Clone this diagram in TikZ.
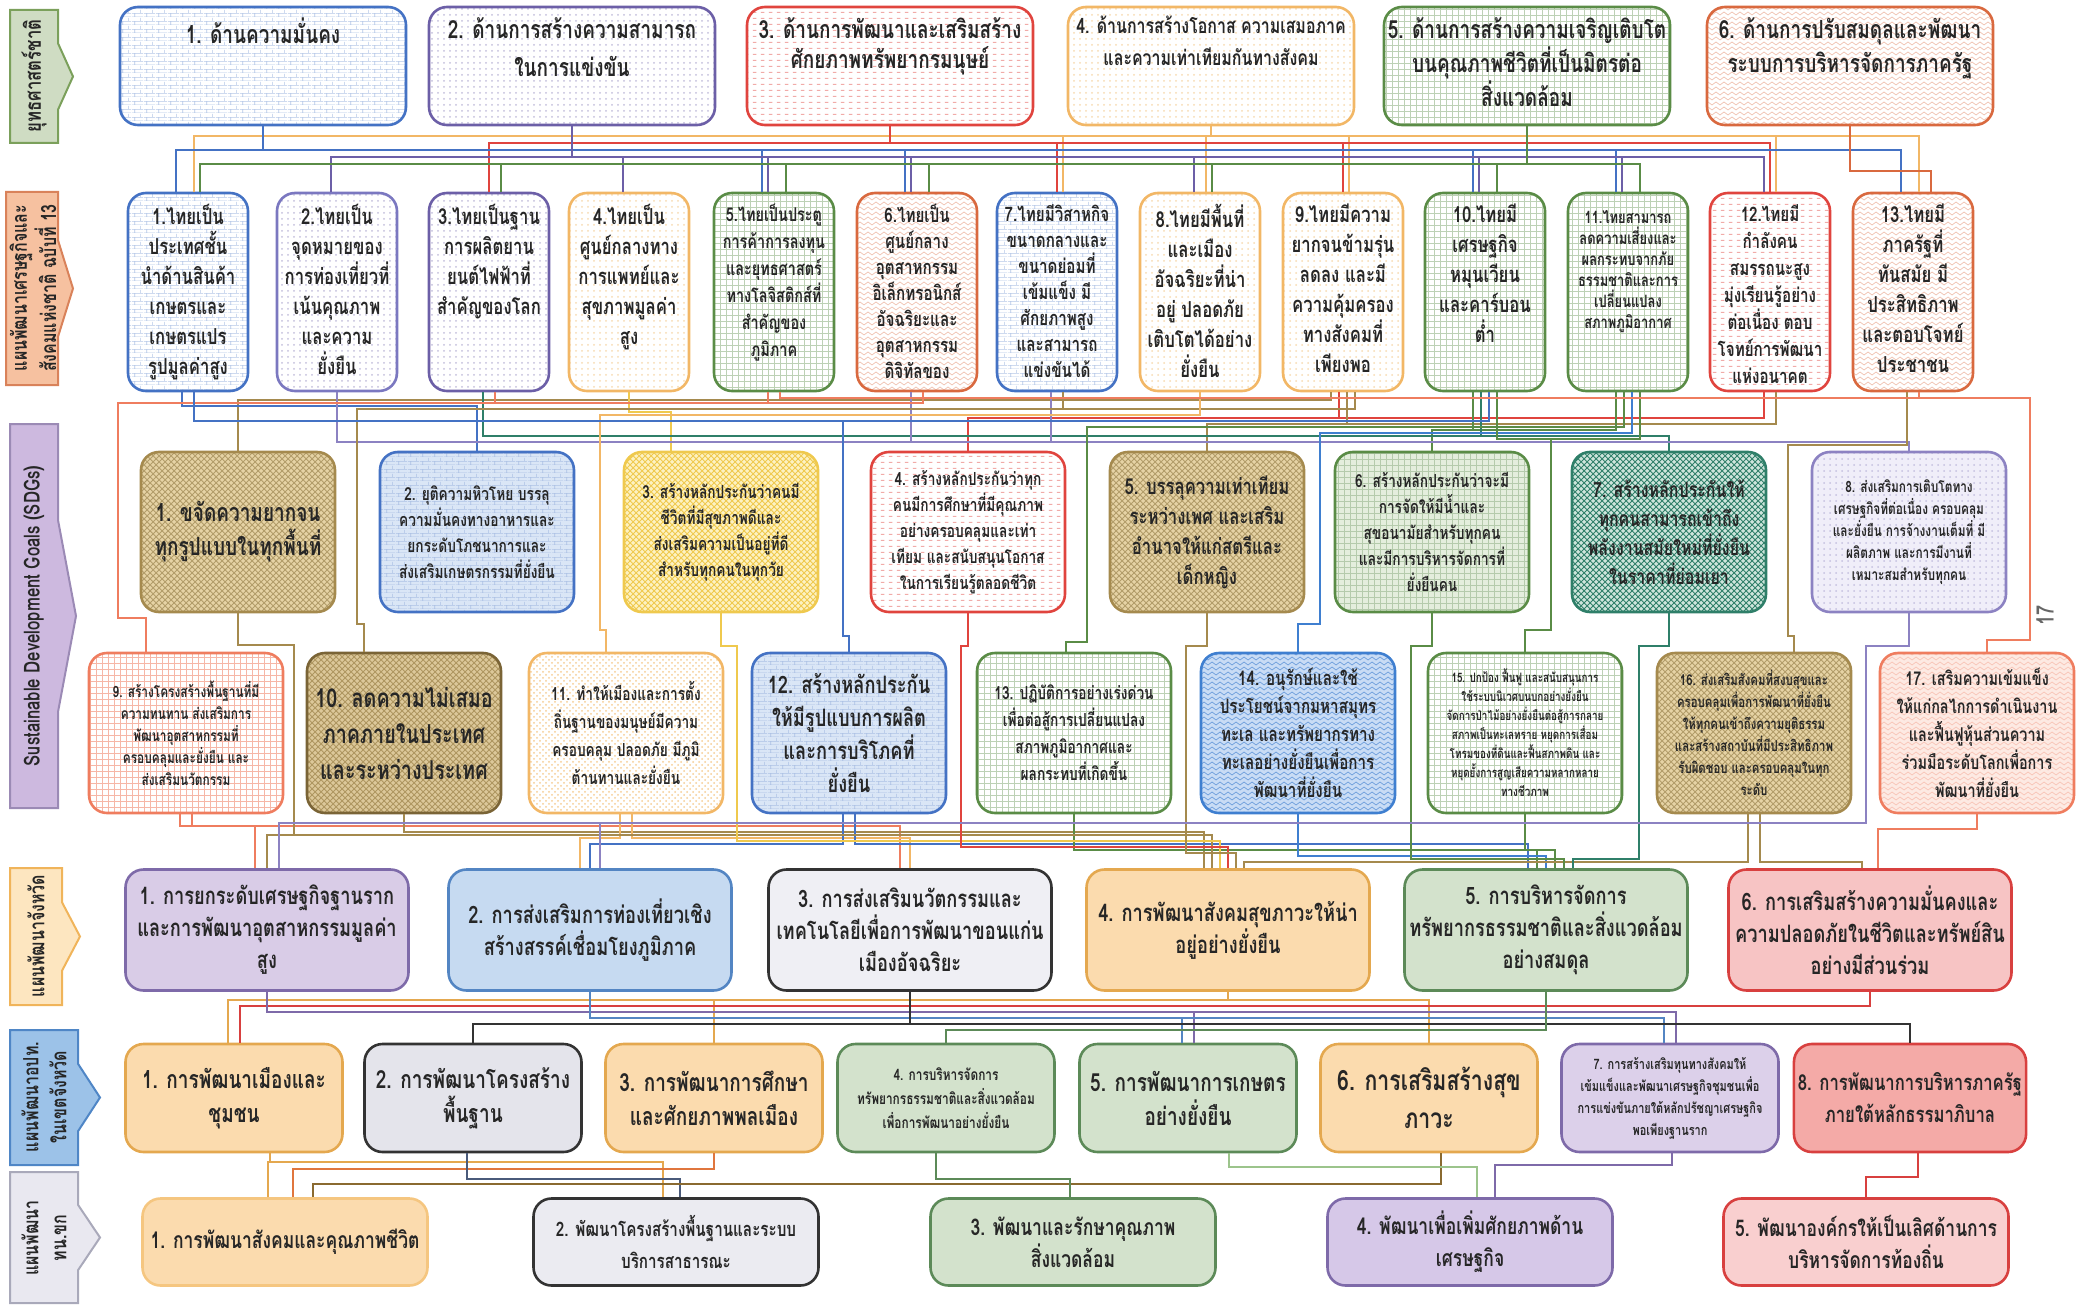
\documentclass[tikz,border=0pt]{standalone}
\usepackage{fontspec}
\setmainfont[Script=Thai, FakeStretch=0.76]{Loma}
\usetikzlibrary{calc, positioning, patterns, patterns.meta}

\newcommand{\fz}[2]{\fontsize{#1}{#2}\selectfont\bfseries}

% strategy and plan colours
\definecolor{sblue}{HTML}{4472C4}
\definecolor{spurple}{HTML}{6C5FA7}
\definecolor{plav}{HTML}{7B78C0}
\definecolor{sred}{HTML}{E0443E}
\definecolor{sorange}{HTML}{F2B766}
\definecolor{sgreen}{HTML}{5A8C46}
\definecolor{sorred}{HTML}{D9693F}
% sdg colours
\definecolor{gbrown}{HTML}{A58A4E}
\definecolor{dbrown}{HTML}{7A6436}
\definecolor{gyellow}{HTML}{EFC94E}
\definecolor{gteal}{HTML}{2F7F69}
\definecolor{glav}{HTML}{8C82C2}
\definecolor{gsalmon}{HTML}{EF7D5F}
\definecolor{gblue}{HTML}{3F7FD0}
\definecolor{bgtan}{HTML}{E6D3A5}
\definecolor{bgtan2}{HTML}{DCC89A}
\definecolor{bgblue}{HTML}{DAE6F6}
\definecolor{bgyellow}{HTML}{FDF2C2}
\definecolor{bggreen}{HTML}{E4EEDD}
\definecolor{bgteal}{HTML}{CFE5DC}
\definecolor{bglav}{HTML}{F0EEF9}
\definecolor{bgsea}{HTML}{C9DCF5}
\definecolor{bgpink}{HTML}{FDEAE3}
% province / local colours
\definecolor{ppurple}{HTML}{7E6AA9}
\definecolor{pblue}{HTML}{5385C3}
\definecolor{pdark}{HTML}{333333}
\definecolor{porange}{HTML}{E4A84F}
\definecolor{corange}{HTML}{F5C680}
\definecolor{pgreen}{HTML}{5C8A58}
\definecolor{pred}{HTML}{D8403F}
\definecolor{fpurple}{HTML}{D9CCE7}
\definecolor{fpurple2}{HTML}{DCD0EA}
\definecolor{fpurple3}{HTML}{D6C8E8}
\definecolor{fblue}{HTML}{C6DAF1}
\definecolor{fgray}{HTML}{EFEFF4}
\definecolor{fgray2}{HTML}{E4E4EB}
\definecolor{fgray3}{HTML}{EBEBF1}
\definecolor{forange}{HTML}{FBDBAE}
\definecolor{fgreen}{HTML}{D3E2CC}
\definecolor{fpink}{HTML}{F7C4C4}
\definecolor{fpink2}{HTML}{F9CFCF}
\definecolor{fred}{HTML}{F4AAA7}
\definecolor{lorred}{HTML}{E0763E}
\definecolor{lslate}{HTML}{4A5A7A}
\definecolor{lbrown}{HTML}{8A6A30}
\definecolor{lgreen}{HTML}{9CC48C}
% side tags
\definecolor{tag1d}{HTML}{7BA05B}
\definecolor{tag1f}{HTML}{CFDCC3}
\definecolor{tag2d}{HTML}{D9825A}
\definecolor{tag2f}{HTML}{F6C1A0}
\definecolor{tag3d}{HTML}{9B8AB5}
\definecolor{tag3f}{HTML}{CDB9DF}
\definecolor{tag4d}{HTML}{F0B45A}
\definecolor{tag4f}{HTML}{FDE6C0}
\definecolor{tag5d}{HTML}{4F86C6}
\definecolor{tag5f}{HTML}{9CC2E8}
\definecolor{tag6d}{HTML}{A9A9BA}
\definecolor{tag6f}{HTML}{E9E8F0}

\tikzdeclarepattern{
  name=minibricks,
  type=uncolored,
  bounding box={(0pt,0pt) and (6pt,4pt)},
  tile size={(6pt,4pt)},
  code={
    \draw[line width=0.35pt] (0pt,0pt) -- (6pt,0pt) (0pt,2pt) -- (6pt,2pt)
      (1.5pt,0pt) -- (1.5pt,2pt) (4.5pt,2pt) -- (4.5pt,4pt);
  }
}
\tikzdeclarepattern{
  name=zigzag,
  type=uncolored,
  bounding box={(0pt,-0.5pt) and (4pt,2.5pt)},
  tile size={(4pt,2.5pt)},
  code={\draw[line width=0.35pt] (0pt,0pt) -- (2pt,1.5pt) -- (4pt,0pt);}
}
\tikzdeclarepattern{
  name=dashrows,
  type=uncolored,
  bounding box={(0pt,0pt) and (4pt,3pt)},
  tile size={(4pt,3pt)},
  code={\draw[line width=0.5pt] (0.5pt,1.5pt) -- (2.5pt,1.5pt);}
}

\begin{document}
\begin{tikzpicture}[x=0.5pt, y=-0.5pt,
  every node/.style={font=\bfseries, text=black!85},
  box/.style={draw, line width=1.3pt, rounded corners=9pt, inner sep=2pt, align=center},
  strat/.style={box, minimum width=143pt, minimum height=59pt},
  plan/.style={box, minimum width=60pt, minimum height=99pt},
  sdg/.style={box, minimum width=97pt, minimum height=80pt},
  prov/.style={box, minimum width=141.5pt, minimum height=60.5pt},
  local/.style={box, minimum width=108.5pt, minimum height=54pt},
  city/.style={box, minimum width=142.5pt, minimum height=43.5pt},
  boxtext/.style={anchor=north, align=center, inner sep=0pt},
  pat/.style n args={4}{draw=#1, pattern=#2, pattern color=#3, preaction={fill=#4}},
  flat/.style 2 args={draw=#1, fill=#2},
  wire/.style={line width=1.2pt},
  tag/.style={line width=1pt},
  tagtext/.style={rotate=90, align=center, inner sep=0pt},
]
\useasboundingbox (0,0) rectangle (2076,1305);

\newcommand{\wire}[6]{% style, from, dx, bus, to, dx
  \coordinate (wa) at ($(#2.south)+(#3,0)$);
  \coordinate (wb) at ($(#5.north)+(#6,0)$);
  \coordinate (wy) at (0,#4);
  \draw[wire, #1] (wa) -- (wa |- wy) -- (wb |- wy) -- (wb);
}
\newcommand{\wiregap}[8]{% style, from, dx, bus, gap x, bus, to, dx
  \coordinate (wa) at ($(#2.south)+(#3,0)$);
  \coordinate (wb) at ($(#7.north)+(#8,0)$);
  \coordinate (wy) at (0,#4);
  \coordinate (wg) at (#5,#6);
  \draw[wire, #1] (wa) -- (wa |- wy) -- (wg |- wy) -- (wg) -- (wb |- wg) -- (wb);
}
\newcommand{\tagshape}[6]{% x0, y0, x1, y1, tip, style
  \draw[tag, #6] (#1,#2) -- (#3,#2) -- (#3,{#2+0.25*(#4-#2)}) -- (#5,{0.5*(#2+#4)})
    -- (#3,{#4-0.25*(#4-#2)}) -- (#3,#4) -- (#1,#4) -- cycle;
}

% side tags
\tagshape{10}{10}{58}{143}{73}{draw=tag1d, fill=tag1f}
\node[tagtext, font=\fz{11}{13}] (tag1) at (34,76) {ยุทธศาสตร์ชาติ};
\tagshape{6}{192}{58}{385}{73}{draw=tag2d, fill=tag2f}
\node[tagtext, font=\fz{10.5}{13}] (tag2) at (33,288) {แผนพัฒนาเศรษฐกิจและ\\สังคมแห่งชาติ ฉบับที่ 13};
\tagshape{10}{424}{58}{808}{76}{draw=tag3d, fill=tag3f}
\node[tagtext, font=\fz{11}{13}] (tag3) at (34,616) {Sustainable Development Goals (SDGs)};
\tagshape{10}{868}{62}{1005}{80}{draw=tag4d, fill=tag4f}
\node[tagtext, font=\fz{10.5}{13}] (tag4) at (36,936) {แผนพัฒนาจังหวัด};
\tagshape{10}{1030}{78}{1165}{100}{draw=tag5d, fill=tag5f}
\node[tagtext, font=\fz{10.5}{14}] (tag5) at (44,1097) {แผนพัฒนาอปท.\\ในเขตจังหวัด};
\tagshape{10}{1172}{78}{1303}{100}{draw=tag6d, fill=tag6f}
\node[tagtext, font=\fz{10.5}{14}] (tag6) at (44,1238) {แผนพัฒนา\\ทน.ขก};

% national strategy
\node[strat, pat={sblue}{minibricks}{sblue!40}{white}] (s1) at (263,66) {};
\node[strat, pat={spurple}{dots}{spurple!40}{white}] (s2) at (572,66) {};
\node[strat, pat={sred}{dashrows}{sred!45}{white}] (s3) at (890,66) {};
\node[strat, pat={sorange}{dots}{sorange!50}{white}] (s4) at (1211,66) {};
\node[strat, pat={sgreen}{grid}{sgreen!40}{white}] (s5) at (1527,66) {};
\node[strat, pat={sorred}{zigzag}{sorred!40}{white}] (s6) at (1850,66) {};
\node[boxtext, font=\fz{12.5}{19}] (s1t) at ([yshift=-6pt]s1.north) {1. ด้านความมั่นคง};
\node[boxtext, font=\fz{12.5}{19}] (s2t) at ([yshift=-6pt]s2.north) {2. ด้านการสร้างความสามารถ\\ในการแข่งขัน};
\node[boxtext, font=\fz{12.5}{15}] (s3t) at ([yshift=-6pt]s3.north) {3. ด้านการพัฒนาและเสริมสร้าง\\ศักยภาพทรัพยากรมนุษย์};
\node[boxtext, font=\fz{10.5}{16}] (s4t) at ([yshift=-5pt]s4.north) {4. ด้านการสร้างโอกาส ความเสมอภาค\\และความเท่าเทียมกันทางสังคม};
\node[boxtext, font=\fz{12.5}{17}] (s5t) at ([yshift=-6pt]s5.north) {5. ด้านการสร้างความเจริญเติบโต\\บนคุณภาพชีวิตที่เป็นมิตรต่อ\\สิ่งแวดล้อม};
\node[boxtext, font=\fz{12.5}{17}] (s6t) at ([yshift=-6pt]s6.north) {6. ด้านการปรับสมดุลและพัฒนา\\ระบบการบริหารจัดการภาครัฐ};

% national plan 13
\node[plan, pat={sblue}{minibricks}{sblue!40}{white}] (p1) at (188,292) {};
\node[plan, pat={plav}{dots}{spurple!40}{white}] (p2) at (337,292) {};
\node[plan, pat={spurple}{dots}{spurple!40}{white}] (p3) at (489,292) {};
\node[plan, pat={sorange}{dots}{sorange!50}{white}] (p4) at (629,292) {};
\node[plan, pat={sgreen}{grid}{sgreen!40}{white}] (p5) at (774,292) {};
\node[plan, pat={sorred}{zigzag}{sorred!40}{white}] (p6) at (917,292) {};
\node[plan, pat={sblue}{minibricks}{sblue!40}{white}] (p7) at (1057,292) {};
\node[plan, pat={sorange}{dots}{sorange!50}{white}] (p8) at (1200,292) {};
\node[plan, pat={sorange}{dots}{sorange!50}{white}] (p9) at (1343,292) {};
\node[plan, pat={sgreen}{grid}{sgreen!40}{white}] (p10) at (1485,292) {};
\node[plan, pat={sgreen}{grid}{sgreen!40}{white}] (p11) at (1628,292) {};
\node[plan, pat={sred}{dashrows}{sred!45}{white}] (p12) at (1770,292) {};
\node[plan, pat={sorred}{zigzag}{sorred!40}{white}] (p13) at (1913,292) {};
\begin{scope}[every node/.append style={boxtext, font=\fz{11}{15}}]
  \node (p1t) at ([yshift=-6pt]p1.north) {1.ไทยเป็น\\ประเทศชั้น\\นำด้านสินค้า\\เกษตรและ\\เกษตรแปร\\รูปมูลค่าสูง};
  \node (p2t) at ([yshift=-6pt]p2.north) {2.ไทยเป็น\\จุดหมายของ\\การท่องเที่ยวที่\\เน้นคุณภาพ\\และความ\\ยั่งยืน};
  \node (p3t) at ([yshift=-6pt]p3.north) {3.ไทยเป็นฐาน\\การผลิตยาน\\ยนต์ไฟฟ้าที่\\สำคัญของโลก};
  \node (p4t) at ([yshift=-6pt]p4.north) {4.ไทยเป็น\\ศูนย์กลางทาง\\การแพทย์และ\\สุขภาพมูลค่า\\สูง};
  \node[font=\fz{9.5}{13.5}] (p5t) at ([yshift=-6pt]p5.north) {5.ไทยเป็นประตู\\การค้าการลงทุน\\และยุทธศาสตร์\\ทางโลจิสติกส์ที่\\สำคัญของ\\ภูมิภาค};
  \node[font=\fz{10}{13}] (p6t) at ([yshift=-6pt]p6.north) {6.ไทยเป็น\\ศูนย์กลาง\\อุตสาหกรรม\\อิเล็กทรอนิกส์\\อัจฉริยะและ\\อุตสาหกรรม\\ดิจิทัลของ};
  \node[font=\fz{10}{13}] (p7t) at ([yshift=-6pt]p7.north) {7.ไทยมีวิสาหกิจ\\ขนาดกลางและ\\ขนาดย่อมที่\\เข้มแข็ง มี\\ศักยภาพสูง\\และสามารถ\\แข่งขันได้};
  \node (p8t) at ([yshift=-6pt]p8.north) {8.ไทยมีพื้นที่\\และเมือง\\อัจฉริยะที่น่า\\อยู่ ปลอดภัย\\เติบโตได้อย่าง\\ยั่งยืน};
  \node (p9t) at ([yshift=-6pt]p9.north) {9.ไทยมีความ\\ยากจนข้ามรุ่น\\ลดลง และมี\\ความคุ้มครอง\\ทางสังคมที่\\เพียงพอ};
  \node (p10t) at ([yshift=-6pt]p10.north) {10.ไทยมี\\เศรษฐกิจ\\หมุนเวียน\\และคาร์บอน\\ต่ำ};
  \node[font=\fz{8.5}{10.5}] (p11t) at ([yshift=-9pt]p11.north) {11.ไทยสามารถ\\ลดความเสี่ยงและ\\ผลกระทบจากภัย\\ธรรมชาติและการ\\เปลี่ยนแปลง\\สภาพภูมิอากาศ};
  \node[font=\fz{10}{13.5}] (p12t) at ([yshift=-6pt]p12.north) {12.ไทยมี\\กำลังคน\\สมรรถนะสูง\\มุ่งเรียนรู้อย่าง\\ต่อเนื่อง ตอบ\\โจทย์การพัฒนา\\แห่งอนาคต};
  \node (p13t) at ([yshift=-6pt]p13.north) {13.ไทยมี\\ภาครัฐที่\\ทันสมัย มี\\ประสิทธิภาพ\\และตอบโจทย์\\ประชาชน};
\end{scope}

% SDGs 1-8
\node[sdg, pat={gbrown}{crosshatch}{gbrown!85}{bgtan}, font=\fz{12.5}{17}] (g1) at (238,532) {1. ขจัดความยากจน\\ทุกรูปแบบในทุกพื้นที่};
\node[sdg, pat={sblue}{minibricks}{sblue!45}{bgblue}, font=\fz{9}{13}] (g2) at (477,532) {2. ยุติความหิวโหย บรรลุ\\ความมั่นคงทางอาหารและ\\ยกระดับโภชนาการและ\\ส่งเสริมเกษตรกรรมที่ยั่งยืน};
\node[sdg, pat={gyellow}{crosshatch}{gyellow}{bgyellow}, font=\fz{9}{13}] (g3) at (721,532) {3. สร้างหลักประกันว่าคนมี\\ชีวิตที่มีสุขภาพดีและ\\ส่งเสริมความเป็นอยู่ที่ดี\\สำหรับทุกคนในทุกวัย};
\node[sdg, pat={sred}{dashrows}{sred!45}{white}, font=\fz{9}{13}] (g4) at (968,532) {4. สร้างหลักประกันว่าทุก\\คนมีการศึกษาที่มีคุณภาพ\\อย่างครอบคลุมและเท่า\\เทียม และสนับสนุนโอกาส\\ในการเรียนรู้ตลอดชีวิต};
\node[sdg, pat={gbrown}{crosshatch}{gbrown!85}{bgtan}, font=\fz{11}{15}] (g5) at (1207,532) {5. บรรลุความเท่าเทียม\\ระหว่างเพศ และเสริม\\อำนาจให้แก่สตรีและ\\เด็กหญิง};
\node[sdg, pat={sgreen}{grid}{sgreen!45}{bggreen}, font=\fz{9}{13}] (g6) at (1432,532) {6. สร้างหลักประกันว่าจะมี\\การจัดให้มีน้ำและ\\สุขอนามัยสำหรับทุกคน\\และมีการบริหารจัดการที่\\ยั่งยืนคน};
\node[sdg, pat={gteal}{crosshatch}{gteal}{bgteal}, font=\fz{10.5}{14.5}] (g7) at (1669,532) {7. สร้างหลักประกันให้\\ทุกคนสามารถเข้าถึง\\พลังงานสมัยใหม่ที่ยั่งยืน\\ในราคาที่ย่อมเยา};
\node[sdg, pat={glav}{dots}{glav!50}{bglav}, font=\fz{7.8}{11}] (g8) at (1909,532) {8. ส่งเสริมการเติบโตทาง\\เศรษฐกิจที่ต่อเนื่อง ครอบคลุม\\และยั่งยืน การจ้างงานเต็มที่ มี\\ผลิตภาพ และการมีงานที่\\เหมาะสมสำหรับทุกคน};

% SDGs 9-17
\node[sdg, pat={gsalmon}{grid}{gsalmon!55}{white}, font=\fz{7.8}{11}] (g9) at (186,733) {9. สร้างโครงสร้างพื้นฐานที่มี\\ความทนทาน ส่งเสริมการ\\พัฒนาอุตสาหกรรมที่\\ครอบคลุมและยั่งยืน และ\\ส่งเสริมนวัตกรรม};
\node[sdg, pat={dbrown}{crosshatch}{gbrown!90}{bgtan2}, font=\fz{13}{18}] (g10) at (404,733) {10. ลดความไม่เสมอ\\ภาคภายในประเทศ\\และระหว่างประเทศ};
\node[sdg, pat={sorange}{crosshatch dots}{sorange!70}{white}, font=\fz{9}{14}] (g11) at (626,733) {11. ทำให้เมืองและการตั้ง\\ถิ่นฐานของมนุษย์มีความ\\ครอบคลุม ปลอดภัย มีภูมิ\\ต้านทานและยั่งยืน};
\node[sdg, pat={sblue}{minibricks}{sblue!45}{bgblue}, font=\fz{12}{16.5}] (g12) at (849,733) {12. สร้างหลักประกัน\\ให้มีรูปแบบการผลิต\\และการบริโภคที่\\ยั่งยืน};
\node[sdg, pat={sgreen}{grid}{sgreen!40}{white}, font=\fz{9}{13.5}] (g13) at (1074,733) {13. ปฏิบัติการอย่างเร่งด่วน\\เพื่อต่อสู้การเปลี่ยนแปลง\\สภาพภูมิอากาศและ\\ผลกระทบที่เกิดขึ้น};
\node[sdg, pat={gblue}{zigzag}{gblue!75}{bgsea}, font=\fz{10}{14}] (g14) at (1298,733) {14. อนุรักษ์และใช้\\ประโยชน์จากมหาสมุทร\\ทะเล และทรัพยากรทาง\\ทะเลอย่างยั่งยืนเพื่อการ\\พัฒนาที่ยั่งยืน};
\node[sdg, pat={sgreen}{grid}{sgreen!40}{white}, font=\fz{6.5}{9.5}] (g15) at (1525,733) {15. ปกป้อง ฟื้นฟู และสนับสนุนการ\\ใช้ระบบนิเวศบนบกอย่างยั่งยืน\\จัดการป่าไม้อย่างยั่งยืนต่อสู้การกลาย\\สภาพเป็นทะเลทราย หยุดการเสื่อม\\โทรมของที่ดินและฟื้นสภาพดิน และ\\หยุดยั้งการสูญเสียความหลากหลาย\\ทางชีวภาพ};
\node[sdg, pat={gbrown}{crosshatch}{gbrown!85}{bgtan}, font=\fz{7.5}{11}] (g16) at (1754,733) {16. ส่งเสริมสังคมที่สงบสุขและ\\ครอบคลุมเพื่อการพัฒนาที่ยั่งยืน\\ให้ทุกคนเข้าถึงความยุติธรรม\\และสร้างสถาบันที่มีประสิทธิภาพ\\รับผิดชอบ และครอบคลุมในทุก\\ระดับ};
\node[sdg, pat={gsalmon}{zigzag}{gsalmon!45}{bgpink}, font=\fz{9.5}{14}] (g17) at (1977,733) {17. เสริมความเข้มแข็ง\\ให้แก่กลไกการดำเนินงาน\\และฟื้นฟูหุ้นส่วนความ\\ร่วมมือระดับโลกเพื่อการ\\พัฒนาที่ยั่งยืน};

% provincial plan
\begin{scope}[every node/.append style={font=\fz{12}{16}}]
  \node[prov, flat={ppurple}{fpurple}] (r1) at (267,930) {1. การยกระดับเศรษฐกิจฐานราก\\และการพัฒนาอุตสาหกรรมมูลค่า\\สูง};
  \node[prov, flat={pblue}{fblue}] (r2) at (590,930) {2. การส่งเสริมการท่องเที่ยวเชิง\\สร้างสรรค์เชื่อมโยงภูมิภาค};
  \node[prov, flat={pdark}{fgray}] (r3) at (910,930) {3. การส่งเสริมนวัตกรรมและ\\เทคโนโลยีเพื่อการพัฒนาขอนแก่น\\เมืองอัจฉริยะ};
  \node[prov, flat={porange}{forange}] (r4) at (1228,930) {4. การพัฒนาสังคมสุขภาวะให้น่า\\อยู่อย่างยั่งยืน};
  \node[prov, flat={pgreen}{fgreen}] (r5) at (1546,930) {5. การบริหารจัดการ\\ทรัพยากรธรรมชาติและสิ่งแวดล้อม\\อย่างสมดุล};
  \node[prov, flat={pred}{fpink}] (r6) at (1870,930) {6. การเสริมสร้างความมั่นคงและ\\ความปลอดภัยในชีวิตและทรัพย์สิน\\อย่างมีส่วนร่วม};
\end{scope}

% local government plan
\begin{scope}[every node/.append style={font=\fz{12.5}{17}}]
  \node[local, flat={porange}{forange}] (l1) at (234,1098) {1. การพัฒนาเมืองและ\\ชุมชน};
  \node[local, flat={pdark}{fgray2}] (l2) at (473,1098) {2. การพัฒนาโครงสร้าง\\พื้นฐาน};
  \node[local, flat={porange}{forange}] (l3) at (714,1098) {3. การพัฒนาการศึกษา\\และศักยภาพพลเมือง};
  \node[local, flat={pgreen}{fgreen}, font=\fz{7.8}{12}] (l4) at (946,1098) {4. การบริหารจัดการ\\ทรัพยากรธรรมชาติและสิ่งแวดล้อม\\เพื่อการพัฒนาอย่างยั่งยืน};
  \node[local, flat={pgreen}{fgreen}] (l5) at (1188,1098) {5. การพัฒนาการเกษตร\\อย่างยั่งยืน};
  \node[local, flat={porange}{forange}, font=\fz{14}{19}] (l6) at (1429,1098) {6. การเสริมสร้างสุข\\ภาวะ};
  \node[local, flat={ppurple}{fpurple2}, font=\fz{7.2}{11}] (l7) at (1670,1098) {7. การสร้างเสริมทุนทางสังคมให้\\เข้มแข็งและพัฒนาเศรษฐกิจชุมชนเพื่อ\\การแข่งขันภายใต้หลักปรัชญาเศรษฐกิจ\\พอเพียงฐานราก};
  \node[local, flat={pred}{fred}, font=\fz{11}{16}] (l8) at (1910,1098) {8. การพัฒนาการบริหารภาครัฐ\\ภายใต้หลักธรรมาภิบาล};
\end{scope}

% city plan
\begin{scope}[every node/.append style={font=\fz{11.5}{16}}]
  \node[city, flat={corange}{forange}] (c1) at (285,1242) {1. การพัฒนาสังคมและคุณภาพชีวิต};
  \node[city, flat={pdark}{fgray3}, font=\fz{10}{16}] (c2) at (676,1242) {2. พัฒนาโครงสร้างพื้นฐานและระบบ\\บริการสาธารณะ};
  \node[city, flat={pgreen}{fgreen}] (c3) at (1073,1242) {3. พัฒนาและรักษาคุณภาพ\\สิ่งแวดล้อม};
  \node[city, flat={ppurple}{fpurple3}] (c4) at (1470,1242) {4. พัฒนาเพื่อเพิ่มศักยภาพด้าน\\เศรษฐกิจ};
  \node[city, flat={pred}{fpink2}] (c5) at (1866,1242) {5. พัฒนาองค์กรให้เป็นเลิศด้านการ\\บริหารจัดการท้องถิ่น};
\end{scope}

\node[rotate=90, font=\fz{12}{14}, text=black!60] (page) at (2045,615) {17};

% strategy -> plan 13
\foreach \t in {p1,p7,p8,p9,p12,p13} {\wire{sorange}{s4}{0}{136}{\t}{6}}
\foreach \t in {p3,p7,p9,p12} {\wire{sred}{s3}{0}{143}{\t}{0}}
\foreach \t in {p1,p5,p6,p10,p11,p13} {\wire{sblue}{s1}{0}{150}{\t}{-12}}
\foreach \t in {p2,p4,p5,p6,p8,p10,p11,p12} {\wire{spurple}{s2}{0}{157}{\t}{-6}}
\foreach \t in {p1,p3,p5,p6,p8,p10,p11} {\wire{sgreen}{s5}{0}{164}{\t}{12}}
\wire{sorred}{s6}{0}{171}{p13}{18}

% plan 13 -> sdg
\wire{gbrown}{p9}{-12}{400}{g1}{0}
\wire{sblue}{p1}{-6}{406}{g2}{0}
\wire{gyellow}{p4}{0}{412}{g3}{-50}
\wire{sred}{p9}{-4}{418}{g4}{0}
\wire{sred}{p12}{-6}{418}{g4}{0}
\wire{gbrown}{p12}{6}{424}{g5}{0}
\wire{gbrown}{p9}{4}{424}{g5}{0}
\wire{sgreen}{p11}{-12}{430}{g6}{0}
\wire{sgreen}{p10}{-12}{430}{g6}{0}
\wire{gteal}{p3}{-6}{436}{g7}{0}
\wire{gteal}{p10}{-4}{436}{g7}{0}
\wire{glav}{p2}{0}{442}{g8}{0}
\wire{glav}{p6}{-6}{442}{g8}{0}
\wire{glav}{p7}{-6}{442}{g8}{0}
\wiregap{gsalmon}{p3}{6}{403}{118}{618}{g9}{-40}
\wiregap{gsalmon}{p5}{-6}{403}{118}{618}{g9}{-40}
\wiregap{gsalmon}{p6}{6}{403}{118}{618}{g9}{-40}
\wiregap{gbrown}{p7}{6}{409}{357}{624}{g10}{-40}
\wiregap{gbrown}{p9}{12}{409}{357}{624}{g10}{-40}
\wiregap{sorange}{p8}{0}{415}{600}{630}{g11}{-20}
\wiregap{sblue}{p1}{6}{421}{843}{636}{g12}{0}
\wiregap{sblue}{p10}{4}{421}{843}{636}{g12}{0}
\wiregap{sgreen}{p11}{-4}{427}{1087}{642}{g13}{-8}
\wiregap{gblue}{p11}{4}{433}{1320}{624}{g14}{0}
\wiregap{sgreen}{p11}{12}{439}{1551}{630}{g15}{0}
\wiregap{sgreen}{p10}{12}{439}{1551}{630}{g15}{0}
\wiregap{gbrown}{p13}{-6}{445}{1788}{636}{g16}{40}
\wiregap{gsalmon}{p5}{6}{398}{2030}{640}{g17}{10}
\wiregap{gsalmon}{p13}{6}{398}{2030}{640}{g17}{10}

% sdg -> province
\wire{gsalmon}{g9}{-6}{826}{r1}{-12}
\wire{gsalmon}{g9}{6}{826}{r3}{-10}
\wire{gbrown}{g10}{0}{832}{r4}{-24}
\wire{sorange}{g11}{-6}{838}{r2}{-10}
\wire{sorange}{g11}{6}{838}{r3}{0}
\wire{sblue}{g12}{-6}{844}{r2}{0}
\wire{sblue}{g12}{6}{844}{r5}{-18}
\wire{sgreen}{g13}{0}{850}{r5}{-9}
\wire{gblue}{g14}{0}{856}{r5}{0}
\wire{sgreen}{g15}{0}{850}{r5}{9}
\wire{gbrown}{g16}{-6}{862}{r4}{16}
\wire{gbrown}{g16}{6}{862}{r6}{-8}
\wire{gsalmon}{g17}{0}{829}{r6}{8}
\wiregap{gbrown}{g1}{0}{645}{294}{835}{r1}{0}
\wiregap{gbrown}{g1}{0}{645}{294}{835}{r4}{-16}
\wiregap{gyellow}{g3}{0}{646}{737}{841}{r4}{-8}
\wiregap{sred}{g4}{0}{646}{961}{847}{r4}{0}
\wiregap{gbrown}{g5}{0}{646}{1186}{853}{r4}{8}
\wiregap{sgreen}{g6}{0}{646}{1411}{859}{r5}{18}
\wiregap{gteal}{g7}{0}{646}{1639}{859}{r5}{27}
\wiregap{glav}{g8}{0}{646}{1866}{823}{r1}{12}
\wiregap{glav}{g8}{0}{646}{1866}{823}{r2}{10}

% province -> local
\foreach \t/\d in {l1/-6,l3/0,l6/0} {\wire{porange}{r4}{0}{1000}{\t}{\d}}
\wire{pred}{r6}{0}{1006}{l1}{6}
\foreach \t in {l5,l7} {\wire{ppurple}{r1}{0}{1012}{\t}{6}}
\foreach \t in {l5,l7} {\wire{pblue}{r2}{0}{1018}{\t}{-6}}
\foreach \t in {l2,l8} {\wire{pdark}{r3}{0}{1024}{\t}{0}}
\wire{pgreen}{r5}{0}{1030}{l4}{0}

% local -> city
\wire{porange}{l1}{36}{1162}{c1}{-17}
\wire{porange}{l1}{36}{1162}{c2}{-13}
\wire{lorred}{l3}{0}{1169}{c1}{8}
\wire{lslate}{l2}{-6}{1179}{c2}{4}
\wire{lbrown}{l6}{12}{1184}{c1}{28}
\wire{pgreen}{l4}{-10}{1179}{c3}{-3}
\wire{lgreen}{l5}{41}{1167}{c4}{7}
\wire{ppurple}{l7}{2}{1165}{c4}{25}
\wire{pred}{l8}{8}{1177}{c5}{0}
\end{tikzpicture}
\end{document}
